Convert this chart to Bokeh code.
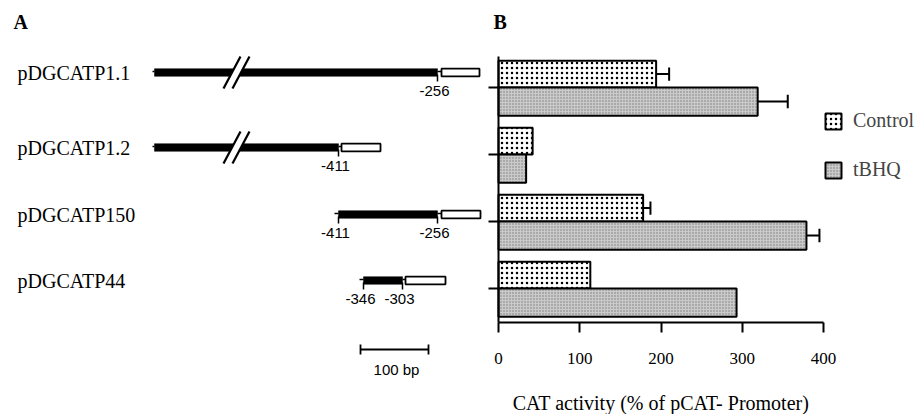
from bokeh.plotting import figure
from bokeh.layouts import row
from bokeh.models import Range1d, FixedTicker, Legend, LegendItem, ColumnDataSource
from bokeh.core.properties import value
from bokeh.embed import file_html
from bokeh.resources import INLINE

# ---------------- data ----------------
constructs = ["pDGCATP1.1", "pDGCATP1.2", "pDGCATP150", "pDGCATP44"]
control = [194, 42, 178, 113]
control_err = [16, 0, 9, 0]
tbhq = [319, 34, 379, 293]
tbhq_err = [37, 0, 16, 0]
x_ticks = [0, 100, 200, 300, 400]
series_names = ["Control", "tBHQ"]
axis_title = "CAT activity (% of pCAT- Promoter)"

# schematic construct map (panel A, drawing units)
lead_start = [152, 152, 334, 359]
promoter_start = [154, 154, 338, 363]
promoter_end = [437, 338, 437, 402]
reporter_start = [441, 341, 441, 405]
reporter_end = [479, 380, 480, 445]
has_break = [True, True, False, False]
site_row = [0, 1, 2, 2, 3, 3]
site_x = [437, 338, 338, 437, 363, 402]
site_text = ["-256", "-411", "-411", "-256", "-346", "-303"]
scale_bp = 100
scale_units_per_bp = 0.68

SERIF = "Liberation Serif"
SANS = "Liberation Sans"
H = 414
WA = 484
WB = 433

# ---------------- panel A ----------------
row_y = [72, 147, 214, 280]
pa = figure(width=WA, height=H, x_range=Range1d(0, WA), y_range=Range1d(H, 0),
            x_axis_location=None, y_axis_location=None, min_border=0,
            output_backend="svg", toolbar_location=None)
pa.grid.visible = False
pa.outline_line_color = None

pa.text(x=[13], y=[21], text=["A"], text_font=value(SERIF), text_font_style="bold",
        text_font_size="20px", text_baseline="middle", text_align="left", text_color="black")
pa.text(x=[17] * 4, y=row_y, text=constructs, text_font=value(SERIF), text_font_size="20px",
        text_baseline="middle", text_align="left", text_color="black")

half = 3.8
pa.segment(x0=lead_start, y0=[y - 1 for y in row_y], x1=promoter_start, y1=[y - 1 for y in row_y],
           line_color="black", line_width=1.5)
pa.quad(left=promoter_start, right=promoter_end, top=[y - half for y in row_y],
        bottom=[y + half for y in row_y], fill_color="black", line_color="black", line_width=0.5)
pa.segment(x0=promoter_end, y0=[y - 1 for y in row_y], x1=reporter_start, y1=[y - 1 for y in row_y],
           line_color="black", line_width=1.5)
pa.quad(left=reporter_start, right=reporter_end, top=[y - half for y in row_y],
        bottom=[y + half for y in row_y], fill_color="white", line_color="black", line_width=1.8)

bx = 236
for i, b in enumerate(has_break):
    if not b:
        continue
    y = row_y[i]
    c1, c2 = bx - 4.5, bx + 4.5
    pa.patch(x=[c1 - 8.5, c1 + 8.5, c2 + 8.5, c2 - 8.5], y=[y + 16, y - 16, y - 16, y + 16],
             fill_color="white", line_color=None)
    pa.segment(x0=[c1 - 8.5, c2 - 8.5], y0=[y + 16, y + 16], x1=[c1 + 8.5, c2 + 8.5], y1=[y - 16, y - 16],
               line_color="black", line_width=2.2)

sy = [row_y[r] for r in site_row]
pa.segment(x0=site_x, y0=[y + 2 for y in sy], x1=site_x, y1=[y + 9 for y in sy],
           line_color="black", line_width=1.5)
pa.text(x=[x - 3 for x in site_x], y=[y + 18 for y in sy], text=site_text, text_font=value(SANS),
        text_font_size="15px", text_baseline="middle", text_align="center", text_color="black")

sb0 = 360
sb1 = sb0 + scale_bp * scale_units_per_bp
sby = 349
pa.segment(x0=[sb0, sb0, sb1], y0=[sby, sby - 5, sby - 5], x1=[sb1, sb0, sb1], y1=[sby, sby + 5, sby + 5],
           line_color="black", line_width=1.8)
pa.text(x=[(sb0 + sb1) / 2 + 2], y=[sby + 20], text=["%d bp" % scale_bp], text_font=value(SANS),
        text_font_size="15px", text_baseline="middle", text_align="center", text_color="black")

# ---------------- panel B ----------------
ypos = [4, 3, 2, 1]
px_per_unit = 0.8125
x0_page = 498 - WA
x_lo = -x0_page / px_per_unit
x_hi = (WB - x0_page) / px_per_unit
row_px = 67.0
y_hi = 4 + 87 / row_px
y_lo = 1 - (H - 288) / row_px
y_axis_at = 1 - (322 - 288) / row_px
y_axis_top = 4 + (87 - 56) / row_px

pb = figure(width=WB, height=H, x_range=Range1d(x_lo, x_hi), y_range=Range1d(y_lo, y_hi),
            min_border=0, output_backend="svg", toolbar_location=None)
pb.grid.visible = False
pb.outline_line_color = None

ctrl_src = ColumnDataSource(dict(y=[g + 0.2 for g in ypos], right=control))
tbhq_src = ColumnDataSource(dict(y=[g - 0.21 for g in ypos], right=tbhq))
r_ctrl = pb.hbar(y="y", right="right", left=0, height=0.4, source=ctrl_src,
                 fill_color="white", line_color="black", line_width=2,
                 hatch_pattern="dot", hatch_color="black", hatch_scale=5, hatch_weight=1.2)
r_tbhq = pb.hbar(y="y", right="right", left=0, height=0.42, source=tbhq_src,
                 fill_color="#cacaca", line_color="black", line_width=2,
                 hatch_pattern="dot", hatch_color="#7a7a7a", hatch_scale=3, hatch_weight=1)

ex0, ex1, ey = [], [], []
for vals, errs, off in ((control, control_err, 0.2), (tbhq, tbhq_err, -0.21)):
    for g, v, e in zip(ypos, vals, errs):
        if e > 0:
            ex0.append(v)
            ex1.append(v + e)
            ey.append(g + off)
pb.segment(x0=ex0, y0=ey, x1=ex1, y1=ey, line_color="black", line_width=2)
pb.segment(x0=ex1, y0=[y - 0.1 for y in ey], x1=ex1, y1=[y + 0.1 for y in ey],
           line_color="black", line_width=2)

xa = pb.xaxis[0]
xa.fixed_location = y_axis_at
xa.bounds = (0, 400)
xa.ticker = FixedTicker(ticks=x_ticks)
xa.minor_tick_line_color = None
xa.major_tick_out = 10
xa.major_tick_in = 0
xa.axis_line_width = 2
xa.major_tick_line_width = 2
xa.major_label_standoff = 20
xa.major_label_text_font = SERIF
xa.major_label_text_font_size = "17px"
xa.major_label_text_color = "black"
xa.axis_label = axis_title
xa.axis_label_text_font = SERIF
xa.axis_label_text_font_size = "20px"
xa.axis_label_text_font_style = "normal"
xa.axis_label_text_color = "black"
xa.axis_label_standoff = 25

ya = pb.yaxis[0]
ya.fixed_location = 0
ya.bounds = (y_axis_at, y_axis_top)
ya.ticker = FixedTicker(ticks=ypos)
ya.minor_tick_line_color = None
ya.major_tick_out = 10
ya.major_tick_in = 0
ya.axis_line_width = 2
ya.major_tick_line_width = 2
ya.major_label_overrides = {g: "" for g in ypos}
ya.major_label_standoff = 0

legend = Legend(items=[LegendItem(label=series_names[0], renderers=[r_ctrl]),
                       LegendItem(label=series_names[1], renderers=[r_tbhq])],
                location=(823 - WA, H - 181), glyph_width=20, glyph_height=20, label_standoff=10,
                spacing=26, padding=0, margin=0, border_line_color=None, background_fill_alpha=0,
                label_text_font=SERIF, label_text_font_size="20px", label_height=20)
pb.add_layout(legend)

pb.text(x=[(493 - 498) / px_per_unit], y=[4 + (87 - 21) / row_px], text=["B"], text_font=value(SERIF),
        text_font_style="bold", text_font_size="20px", text_baseline="middle", text_align="left",
        text_color="black")

layout = row(pa, pb)
open("out.html", "w").write(file_html(layout, INLINE))
